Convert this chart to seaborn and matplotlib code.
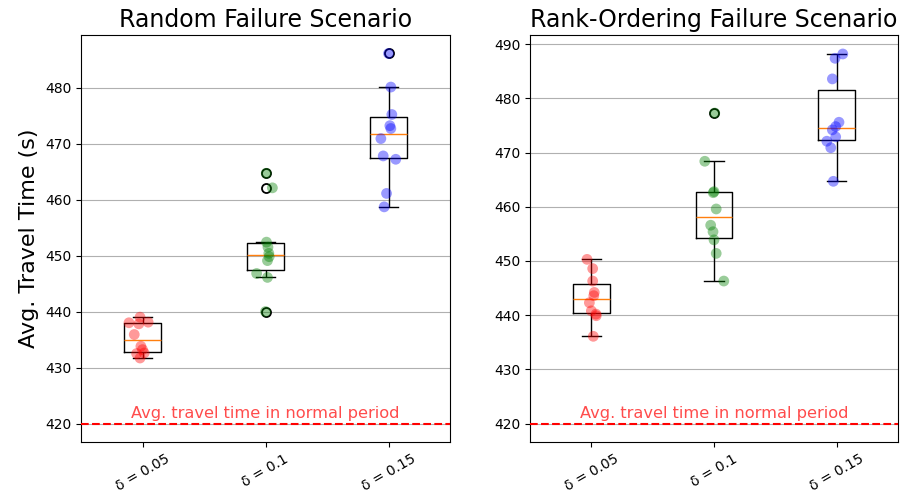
import numpy as np
import pandas as pd
import matplotlib
matplotlib.use("Agg")
import matplotlib.pyplot as plt
import seaborn as sns

# ---------------- data ----------------
deltas = ["δ = 0.05", "δ = 0.1", "δ = 0.15"]
titles = ["Random Failure Scenario", "Rank-Ordering Failure Scenario"]
point_colors = ["red", "green", "blue"]
normal_time = 420

# Random failure scenario
random_005 = [439.0, 438.0, 437.8, 438.1, 435.9, 433.8, 433.2, 432.6, 432.5, 431.7]
random_010 = [464.7, 462.1, 452.4, 451.5, 450.4, 449.8, 449.1, 446.8, 446.1, 440.0]
random_015 = [486.1, 480.1, 475.2, 473.2, 472.7, 470.9, 467.8, 467.2, 461.1, 458.7]
# horizontal jitter of the strip points (category units)
random_005_jit = [-0.02, -0.11, -0.03, 0.046, -0.067, -0.013, 0.00, 0.014, -0.048, -0.02]
random_010_jit = [0.006, 0.056, 0.008, 0.02, 0.027, 0.03, 0.016, -0.072, 0.016, 0.0]
random_015_jit = [0.0, 0.019, 0.027, 0.011, 0.019, -0.062, -0.043, 0.059, -0.016, -0.035]

# Rank-ordering failure scenario
rank_005 = [450.3, 448.6, 446.3, 444.2, 443.6, 442.3, 440.8, 440.2, 439.9, 436.1]
rank_010 = [477.3, 468.4, 462.8, 462.6, 459.6, 456.6, 455.4, 453.9, 451.4, 446.3]
rank_015 = [488.2, 487.4, 483.6, 475.6, 474.8, 474.2, 472.9, 472.1, 470.9, 464.7]
rank_005_jit = [-0.035, 0.011, 0.011, 0.024, 0.02, -0.016, 0.0, 0.038, 0.04, 0.016]
rank_010_jit = [0.006, -0.075, 0.0, -0.006, 0.018, -0.027, -0.008, 0.0, 0.018, 0.08]
rank_015_jit = [0.05, -0.013, -0.035, 0.019, -0.008, -0.035, -0.008, -0.08, -0.048, -0.027]

scenarios = {
    titles[0]: ([random_005, random_010, random_015],
                [random_005_jit, random_010_jit, random_015_jit]),
    titles[1]: ([rank_005, rank_010, rank_015],
                [rank_005_jit, rank_010_jit, rank_015_jit]),
}

rows = []
for scen, (groups, jits) in scenarios.items():
    for i, (vals, jit) in enumerate(zip(groups, jits)):
        for v, j in zip(vals, jit):
            rows.append(dict(scenario=scen, delta=deltas[i], pos=i + j, value=v))
df = pd.DataFrame(rows)

# ---------------- plot ----------------
fig = plt.figure(figsize=(9.01, 5.0), dpi=100)
ax1 = fig.add_axes([81 / 901, 1 - 442 / 500, 369 / 901, 407 / 500])
ax2 = fig.add_axes([530 / 901, 1 - 442 / 500, 368 / 901, 407 / 500])
axes = [ax1, ax2]
ylims = [(416.7, 489.4), (416.6, 491.7)]
palette = dict(zip(deltas, point_colors))

for ax, scen, yl in zip(axes, titles, ylims):
    sub = df[df["scenario"] == scen]
    ax.set_axisbelow(True)
    ax.yaxis.grid(True, color="#b0b0b0", linewidth=0.8)
    sns.boxplot(data=sub, x="delta", y="value", order=deltas, ax=ax,
                fill=False, width=0.3, color="black", linewidth=1.0,
                whis=1.5, fliersize=6.5,
                medianprops=dict(color="#ff7f0e", linewidth=1.0),
                flierprops=dict(marker="o", markerfacecolor="none",
                                markeredgecolor="black", markeredgewidth=1.3),
                capwidths=0.16)
    sns.scatterplot(data=sub, x="pos", y="value", hue="delta", palette=palette,
                    ax=ax, s=60, alpha=0.4, linewidth=0, legend=False, zorder=3)
    ax.axhline(normal_time, color="red", linestyle="--", linewidth=1.5, zorder=4)
    ax.text(1, normal_time + 0.4, "Avg. travel time in normal period",
            color="red", alpha=0.7, fontsize=11.7, ha="center", va="bottom")
    ax.set_xlim(-0.5, 2.5)
    ax.set_ylim(*yl)
    ax.set_xticks(range(len(deltas)))
    ax.set_xticklabels(deltas, rotation=30, fontsize=10)
    ax.set_xlabel("")
    ax.set_ylabel("")
    ax.set_title(scen, fontsize=17)
    for s in ax.spines.values():
        s.set_visible(True)

ax1.set_ylabel("Avg. Travel Time (s)", fontsize=16)

fig.savefig("out.png", dpi=100)
